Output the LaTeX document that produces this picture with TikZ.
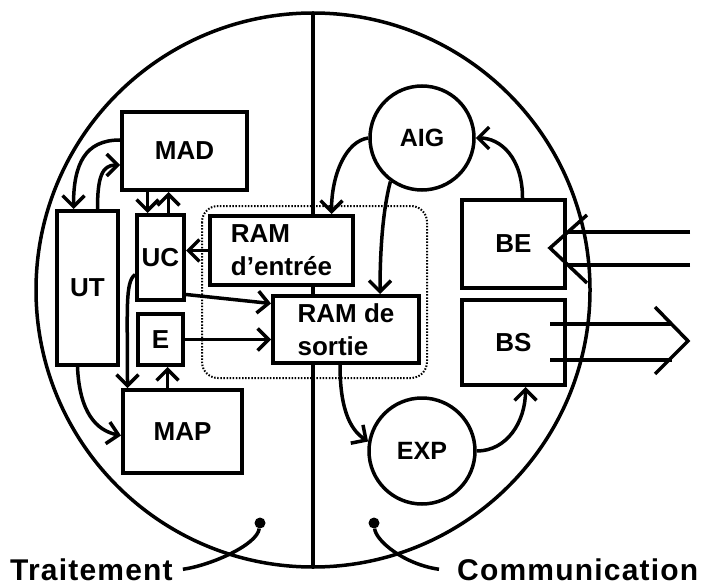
\documentclass[tikz,border=0pt]{standalone}
\usepackage{fontspec}
\setmainfont{Liberation Sans}
\usetikzlibrary{positioning, arrows.meta}

\begin{document}
\begin{tikzpicture}[x=1pt, y=-1pt,
    box/.style={draw, line width=4pt, fill=white, inner sep=0pt,
      font=\fontsize{26}{33}\selectfont\bfseries},
    ram/.style={box, align=left, font=\fontsize{26}{33}\selectfont\bfseries},
    unit/.style={draw, circle, line width=3.5pt, fill=white, inner sep=0pt,
      font=\fontsize{25}{30}\selectfont\bfseries},
    line/.style={line width=3.5pt},
    arr/.style={line, -{Straight Barb[length=11pt, width=22pt]}},
    blob/.style={circle, fill, minimum size=11pt, inner sep=0pt},
    caption/.style={inner sep=0pt,
      font=\fontsize{30}{36}\selectfont\bfseries\addfontfeature{LetterSpace=4}}]
    \useasboundingbox (0,0) rectangle (708,585);
    % the two halves
    \node[draw, circle, line width=3.5pt, minimum size=554pt, inner sep=0pt, outer sep=0pt] (globe) at (313,290) {};
    \draw[line] (globe.north) -- (globe.south);
    \draw[line width=2pt, dash pattern=on 1.5pt off 1.6pt, rounded corners=16pt] (202,206) rectangle (427,378);
    % traitement
    \node[box, minimum width=125pt, minimum height=78pt] (mad) at (184.5,151) {MAD};
    \node[box, minimum width=61pt, minimum height=154pt] (ut) at (87.5,288) {UT};
    \node[box, minimum width=47pt, minimum height=85pt] (uc) at (160.5,257.5) {UC};
    \node[box, minimum width=45pt, minimum height=51pt, below=10pt of uc] (e) {E};
    \node[box, minimum width=119pt, minimum height=83pt] (map) at (182.5,431.5) {MAP};
    \node[ram, minimum width=143pt, minimum height=69pt] (ramin) at (281.5,250.5) {RAM\\d'entrée};
    \node[ram, minimum width=146pt, minimum height=67pt] (ramout) at (346,329.5) {RAM de\\sortie};
    % communication
    \node[unit, minimum size=104pt] (aig) at (422,138) {AIG};
    \node[unit, minimum size=106pt] (exp) at (422,451) {EXP};
    \node[box, minimum width=103pt, minimum height=88pt] (be) at (513.5,244) {BE};
    \node[box, minimum width=103pt, minimum height=85pt, below=8pt of be] (bs) {BS};
    \draw[arr] ([yshift=11pt]mad.west) .. controls +(-35,0) and +(0,-45) .. ([xshift=-14pt]ut.north);
    \draw[arr] ([xshift=10pt]ut.north) .. controls +(0,-32) and +(-18,0) .. ([yshift=-14pt]mad.west);
    \draw[arr] ([xshift=-13pt]uc.north |- mad.south) -- ([xshift=-13pt]uc.north);
    \draw[arr] ([xshift=8pt]uc.north) -- ([xshift=8pt]uc.north |- mad.south);
    \draw[arr] (ramin.west) -- (uc.east |- ramin.west);
    \draw[arr] ([yshift=-37pt]uc.east) -- ([yshift=26pt]ramout.west);
    \draw[arr] (e.east) -- (ramout.west |- e.east);
    \draw[arr] ([xshift=-15pt]map.north) -- ([xshift=-15pt]map.north |- e.south);
    \draw[arr] ([yshift=-17pt]uc.west) .. controls +(-10,8) and +(0,-80) .. ([xshift=-55pt]map.north);
    \draw[arr] ([xshift=-10pt]ut.south) .. controls +(2,45) and +(-25,-5) .. ([yshift=-4pt]map.west);
    \draw[arr] (aig.west) .. controls +(-22,3) and +(0,-40) .. ([xshift=50pt]ramin.north);
    \draw[arr] (aig.234) .. controls +(-8,30) and +(0,-40) .. ([xshift=34pt]ramout.north);
    \draw[arr] ([xshift=9pt]be.north) .. controls +(0,-40) and +(25,0) .. (aig.east);
    \draw[arr] ([xshift=-6pt]ramout.south) .. controls +(0,50) and +(-15,-10) .. (exp.170);
    \draw[arr] (exp.east) .. controls +(30,0) and +(0,35) .. ([xshift=12pt]bs.south);
    % entree / sortie
    \coordinate (inhi) at (690,232);
    \coordinate (inlo) at (690,265);
    \coordinate (intip) at (550,248);
    \draw[line] (inhi) -- ++(-122,0);
    \draw[line] (inlo) -- ++(-122,0);
    \draw[line] (intip) ++(37,-33) -- (intip) -- ++(37,35);
    \coordinate (outhi) at (550,324);
    \coordinate (outlo) at (550,360);
    \coordinate (outtip) at (688,341);
    \draw[line] (outhi) -- ++(122,0);
    \draw[line] (outlo) -- ++(122,0);
    \draw[line] (outtip) ++(-33,-34) -- (outtip) -- ++(-33,33);
    % legende
    \node[caption, anchor=base west] (trait) at (10,580) {Traitement};
    \node[caption, anchor=base west] (comm) at (457,580) {Communication};
    \node[blob] (tdot) at (260,523) {};
    \node[blob] (cdot) at (374,523) {};
    \draw[line] ([xshift=10pt]trait.east) .. controls +(28,-4) and +(-3,22) .. (tdot);
    \draw[line] ([xshift=-18pt]comm.west) .. controls +(-35,-5) and +(2,18) .. (cdot);
\end{tikzpicture}
\end{document}
